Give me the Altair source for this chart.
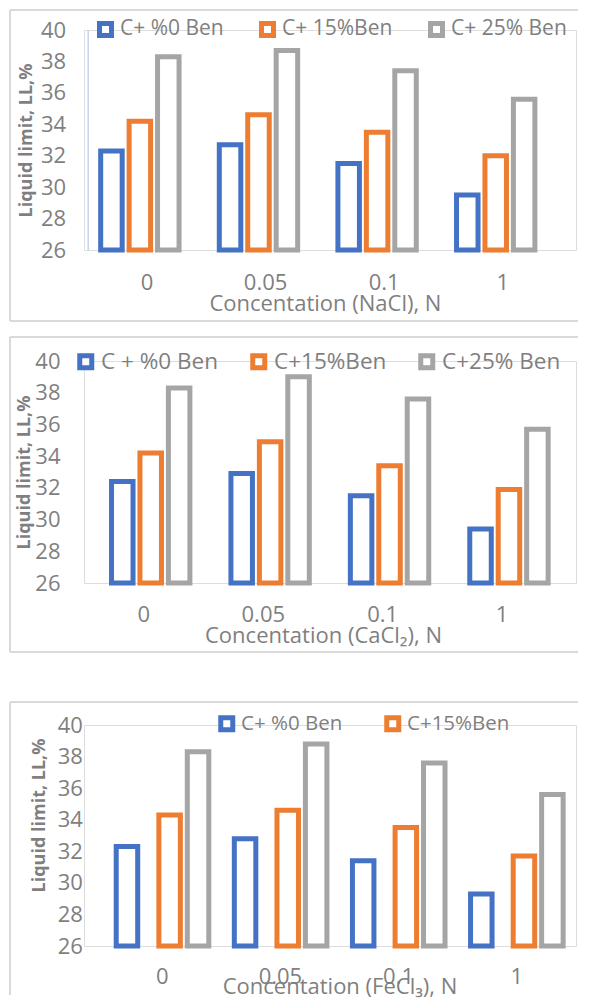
import altair as alt
import pandas as pd

# ---------------- data ----------------
concentrations = ["0", "0.05", "0.1", "1"]
y_ticks = [26, 28, 30, 32, 34, 36, 38, 40]

nacl_series = ["C+ %0 Ben", "C+ 15%Ben", "C+ 25% Ben"]
nacl_ben0 = [32.3, 32.7, 31.5, 29.5]
nacl_ben15 = [34.2, 34.6, 33.5, 32.0]
nacl_ben25 = [38.3, 38.7, 37.4, 35.6]

cacl2_series = ["C + %0 Ben", "C+15%Ben", "C+25% Ben"]
cacl2_ben0 = [32.4, 32.9, 31.5, 29.4]
cacl2_ben15 = [34.2, 34.9, 33.4, 31.9]
cacl2_ben25 = [38.3, 39.0, 37.6, 35.7]

fecl3_series = ["C+ %0 Ben", "C+15%Ben", "C+25% Ben"]
fecl3_ben0 = [32.3, 32.8, 31.4, 29.3]
fecl3_ben15 = [34.3, 34.6, 33.5, 31.7]
fecl3_ben25 = [38.3, 38.8, 37.6, 35.6]

x_titles = ["Concentation (NaCl), N", "Concentation (CaCl\u2082), N", "Concentation (FeCl\u2083), N"]
y_title = "Liquid limit,  LL,%"

colors = ["#4472C4", "#ED7D31", "#A5A5A5"]
TXT = "#7f7f7f"
FRAME = "#d9d9d9"
FONT = "Open Sans"

# common frame geometry (relative to each panel's view origin)
W = 492
F = -74
R = 494


def make_df(series, cols):
    rows = []
    for s, vals in zip(series, cols):
        for c, v in zip(concentrations, vals):
            rows.append({"conc": c, "series": s, "value": v})
    return pd.DataFrame(rows)


def hrule(x, x2, y, color=FRAME, sw=2):
    one = pd.DataFrame({"k": [0]})
    return alt.Chart(one).mark_rule(color=color, strokeWidth=sw).encode(
        x=alt.value(x), x2=alt.value(x2), y=alt.value(y))


def vrule(x, y, y2, color=FRAME, sw=2):
    one = pd.DataFrame({"k": [0]})
    return alt.Chart(one).mark_rule(color=color, strokeWidth=sw).encode(
        x=alt.value(x), y=alt.value(y), y2=alt.value(y2))


def panel(series, cols, x_title, legend_values, p):
    df = make_df(series, cols)
    H = p["H"]
    yaxis_kw = dict(
        values=y_ticks, ticks=False, tickSize=0, grid=False, offset=p["yoff"],
        labelPadding=p["ylabpad"], labelFontSize=22, labelColor=TXT, labelFont=FONT,
        title=y_title, titleX=p["tx"], titleY=p["ty"], titleAngle=270,
        titleAlign="center", titleBaseline="middle", titleFontSize=18,
        titleFontWeight="bold", titleColor=TXT, titleFont=FONT,
    )
    if p["domain"]:
        yaxis_kw.update(domain=True, domainColor="#c5d4ee", domainWidth=1.5)
    else:
        yaxis_kw.update(domain=False)

    xaxis = alt.Axis(
        labelAngle=0, domain=False, ticks=False, tickSize=0,
        labelPadding=p["xlabpad"], labelBaseline="middle", labelFontSize=22,
        labelColor=TXT, labelFont=FONT,
        title=x_title, titleY=p["xty"], titleBaseline="middle", titleFontSize=22,
        titleFontWeight="normal", titleColor=TXT, titleFont=FONT,
    )

    legend = alt.Legend(
        orient="none", legendX=p["lx"], legendY=p["ly"], direction="horizontal",
        columns=len(legend_values), title=None, symbolType="square", symbolSize=144,
        symbolStrokeWidth=5, symbolFillColor="white", labelFontSize=p["lfs"],
        labelColor=TXT, labelFont=FONT, labelOffset=4, columnPadding=p["colpad"],
        padding=0, values=legend_values, labelLimit=0,
    )

    bars = alt.Chart(df).mark_bar(
        fill="white", strokeWidth=5, strokeJoin="miter", width=21.5,
    ).encode(
        x=alt.X("conc:N", sort=concentrations, axis=xaxis,
                scale=alt.Scale(range=p["xrange"], paddingInner=0.3145, paddingOuter=0.157)),
        xOffset=alt.XOffset("series:N", sort=series,
                            scale=alt.Scale(paddingInner=0.281, paddingOuter=0)),
        y=alt.Y("value:Q", axis=alt.Axis(**yaxis_kw),
                scale=alt.Scale(domain=[26, 40], nice=False, zero=False)),
        y2=alt.datum(26),
        stroke=alt.Stroke("series:N", sort=series,
                          scale=alt.Scale(domain=series, range=colors), legend=legend),
    )

    layers = [hrule(F, R, p["T"]), vrule(F, p["T"], p["B"])]
    if p["bottom"]:
        layers.append(hrule(F, R, p["B"]))
    if p.get("extra"):
        # white spacer that only reserves room below the frame
        layers.append(vrule(200, p["B"] + 5, p["B"] + p["extra"], color="white", sw=1))
    layers.append(bars)
    return alt.layer(*layers).properties(width=W, height=H)


p1 = panel(nacl_series, [nacl_ben0, nacl_ben15, nacl_ben25], x_titles[0], nacl_series,
           dict(H=220, T=-20, B=291, bottom=True, domain=True,
                xrange=[3.7, 478.1], yoff=-3.7, ylabpad=22, tx=-60.7, ty=110,
                xlabpad=32.7, xty=53.3, lx=11, ly=-11.3, colpad=27, lfs=21))
p2 = panel(cacl2_series, [cacl2_ben0, cacl2_ben15, cacl2_ben25], x_titles[1], cacl2_series,
           dict(H=222, T=-24, B=291, bottom=True, domain=False, extra=35,
                xrange=[0.2, 477.8], yoff=0, ylabpad=24, tx=-59.8, ty=111,
                xlabpad=31.3, xty=52, lx=-9.5, ly=-11, colpad=24, lfs=22.5))
p3 = panel(fecl3_series, [fecl3_ben0, fecl3_ben15, fecl3_ben25], x_titles[2], fecl3_series[:2],
           dict(H=221, T=-23, B=270, bottom=False, domain=False,
                xrange=[19.3, 491.7], yoff=-19.3, ylabpad=21, tx=-63.9, ty=90,
                xlabpad=30.7, xty=40, lx=132.5, ly=-12, colpad=34, lfs=20.5))

chart = alt.vconcat(p1, p2, p3, spacing=12).resolve_scale(
    x="independent", y="independent", stroke="independent").resolve_legend(
    stroke="independent").properties(padding=0).configure_view(
    stroke="transparent", strokeWidth=0).configure(font=FONT)

chart.save("out.html", embed_options={"renderer": "svg", "actions": False})
